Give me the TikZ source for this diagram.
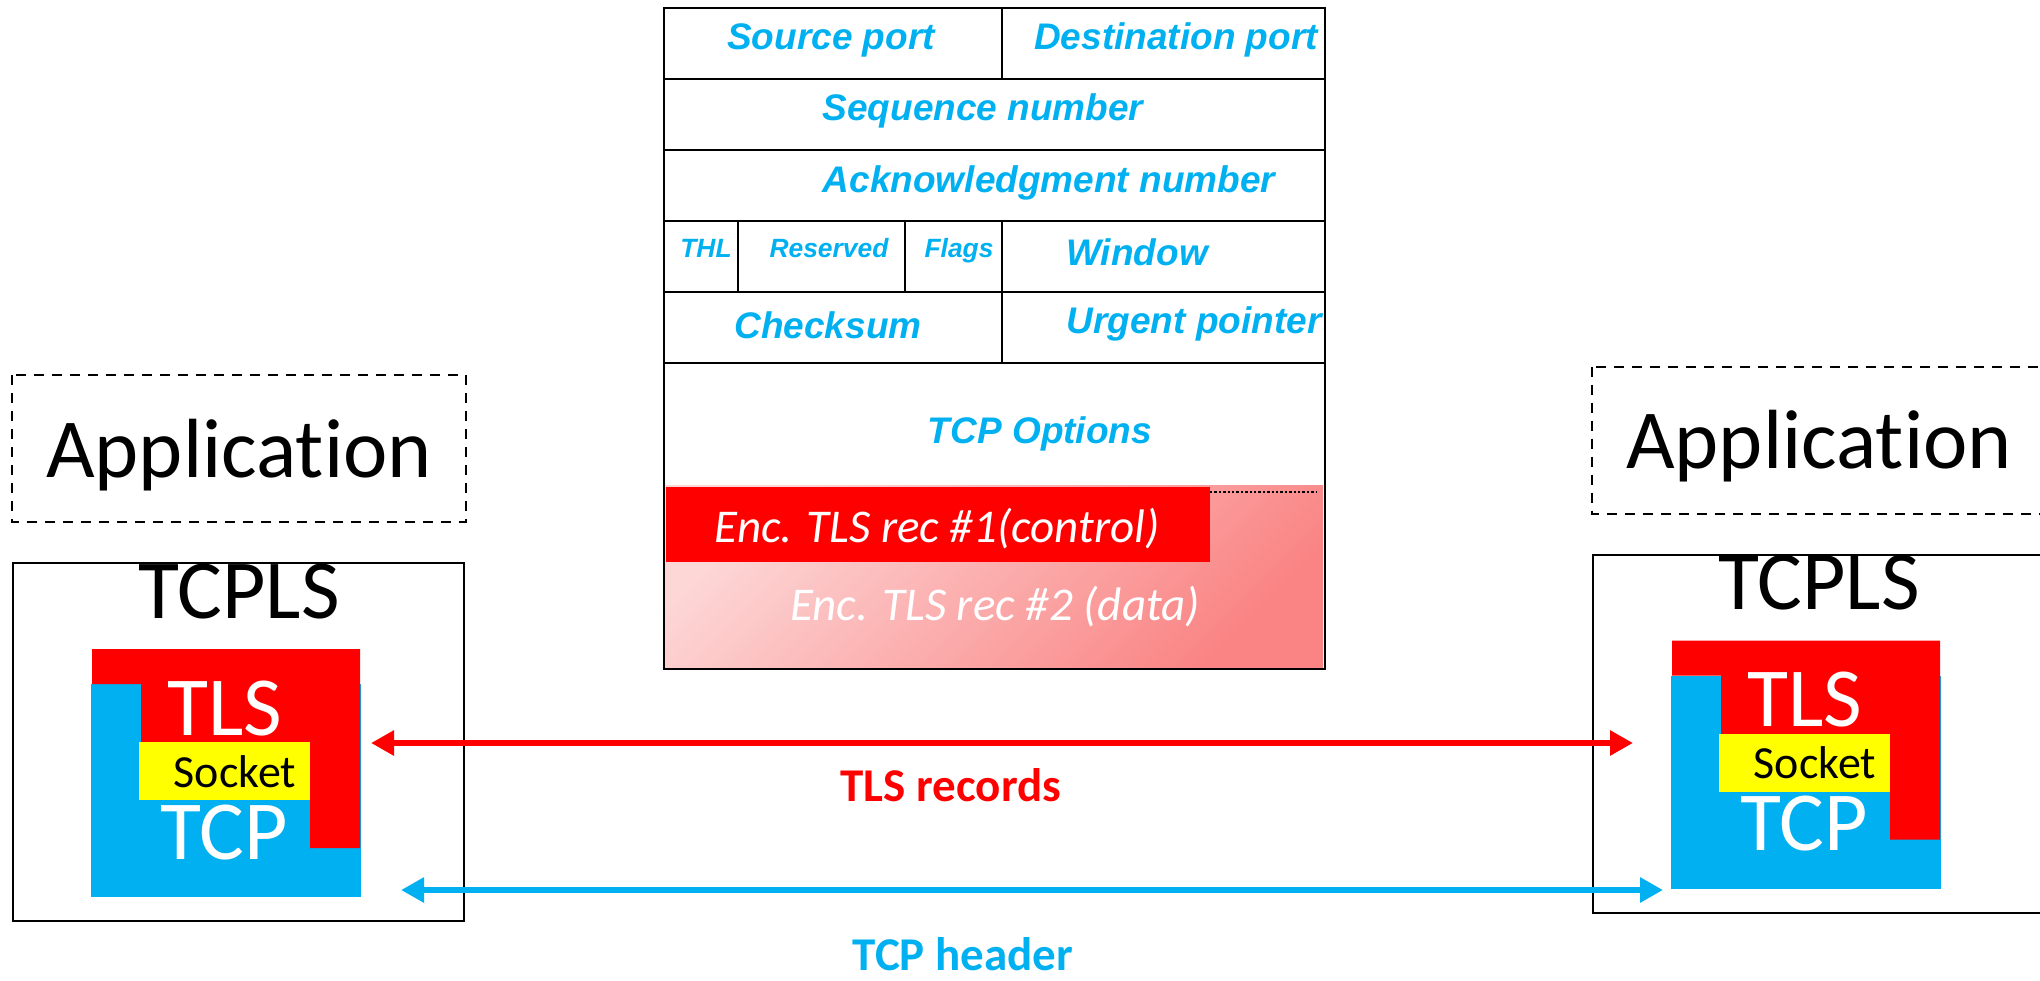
\documentclass[tikz,border=0pt]{standalone}
\usepackage{fontspec}
\setmainfont{Carlito}[Ligatures=NoCommon, RawFeature={-liga}]
\newfontfamily\hdrfont{Liberation Sans}
\usetikzlibrary{arrows.meta}

\definecolor{tcpblue}{HTML}{00B0F0}
\definecolor{tlsred}{HTML}{FF0000}
\definecolor{sockyel}{HTML}{FFFF00}
\definecolor{pinkL}{HTML}{FDD6D6}
\definecolor{pinkD}{HTML}{FA8484}

\tikzset{
  txt/.style={anchor=base, inner sep=0pt, outer sep=0pt},
  hdr/.style={txt, text=tcpblue, font=\hdrfont\bfseries\itshape\fontsize{18.5pt}{20pt}\selectfont},
  hdrsmall/.style={txt, text=tcpblue, font=\hdrfont\bfseries\itshape\fontsize{13.2pt}{15pt}\selectfont},
  rec/.style={txt, text=white, font=\itshape\fontsize{23.5pt}{26pt}\selectfont},
  big/.style={txt, font=\fontsize{42pt}{48pt}\selectfont},
  sock/.style={txt, font=\fontsize{23pt}{26pt}\selectfont},
  lbl/.style={txt, font=\bfseries\fontsize{23.5pt}{26pt}\selectfont},
  hdrline/.style={line width=1pt, draw=black},
  appbox/.style={draw=black, line width=1pt, dash pattern=on 5pt off 4pt},
  hostbox/.style={draw=black, line width=1pt},
  flow/.style={line width=3.2pt, {Triangle[length=11.5pt,width=12pt]}-{Triangle[length=11.5pt,width=12pt]}},
  host/.pic={
    \draw[appbox] (12,375) rectangle (466,522);
    \node[big] (-app) at (239,477) {Application};
    \draw[hostbox] (13,563) rectangle (464,921);
    % TCP layer (L-shape underneath)
    \fill[tcpblue] (91,684) rectangle (361,897);
    % TLS layer wrapped around the socket
    \fill[tlsred] (92,649) -- (360,649) -- (360,848) -- (310,848) -- (310,743)
      -- (141,743) -- (141,684) -- (92,684) -- cycle;
    \fill[sockyel] (139,742) rectangle (310,800);
    \node[big] (-tcpls) at (239,618) {TCPLS};
    \node[big, text=white] (-tls) at (225,735) {TLS};
    \node[sock] (-sock) at (235,787) {Socket};
    \node[big, text=white] (-tcp) at (224,859) {TCP};
  }
}

\begin{document}
\begin{tikzpicture}[x=0.5pt, y=-0.5pt]
\useasboundingbox (0,0) rectangle (2040,980);
\clip (0,0) rectangle (2040,980);

% ---- TCP header with encrypted TLS records as payload ----
\shade[top color=pinkL, bottom color=pinkD, shading angle=45] (665,485) rectangle (1323,668);
\fill[tlsred] (666,487) rectangle (1210,562);
\draw[line width=1.2pt, dash pattern=on 1.2pt off 1pt] (1210,492) -- (1316,492);

\draw[hdrline] (663.5,8) rectangle (1324.5,669);
\foreach \yy in {79,150,221,292,363} \draw[hdrline] (663.5,\yy) -- (1324.5,\yy);
\draw[hdrline] (1002,8) -- (1002,79);
\draw[hdrline] (738,221) -- (738,292);
\draw[hdrline] (905,221) -- (905,292);
\draw[hdrline] (1002,221) -- (1002,363);

\node[hdr] (sport) at (831,49) {Source port};
\node[hdr] (dport) at (1176,49) {Destination port};
\node[hdr] (seq) at (983,120) {Sequence number};
\node[hdr] (ack) at (1049,192) {Acknowledgment number};
\node[hdrsmall] (thl) at (706,257) {THL};
\node[hdrsmall] (resv) at (829,257) {Reserved};
\node[hdrsmall] (flags) at (959,257) {Flags};
\node[hdr] (win) at (1137,265) {Window};
\node[hdr] (csum) at (828,338) {Checksum};
\node[hdr] (urg) at (1194,333) {Urgent pointer};
\node[hdr] (opts) at (1040,443) {TCP Options};
\node[rec] (rec1) at (937,542) {Enc. TLS rec \#1(control)};
\node[rec] (rec2) at (995,620) {Enc. TLS rec \#2 (data)};

% ---- the two endpoints ----
\pic (L) at (0,0) {host};
\pic (R) at (1580,-8.5) {host};

% ---- exchanges between the endpoints ----
\coordinate (tlsA) at (371,743);
\coordinate (tlsB) at (1633,743);
\coordinate (tcpA) at (401,890);
\coordinate (tcpB) at (1663,890);
\draw[flow, draw=tlsred, fill=tlsred] (tlsA) -- (tlsB);
\draw[flow, draw=tcpblue, fill=tcpblue] (tcpA) -- (tcpB);
\node[lbl, text=tlsred] (tlslbl) at (951,801) {TLS records};
\node[lbl, text=tcpblue] (tcplbl) at (963,970) {TCP header};
\end{tikzpicture}
\end{document}
